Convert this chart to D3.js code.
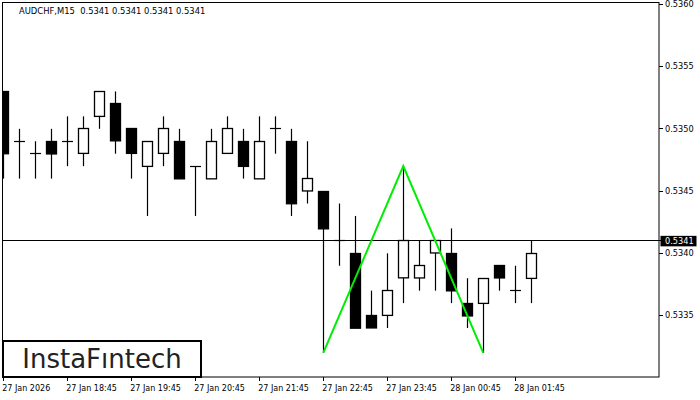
<!DOCTYPE html>
<html><head><meta charset="utf-8">
<script src="https://cdn.jsdelivr.net/npm/d3@7"></script>
<style>
html,body{margin:0;padding:0;background:#fff;}
svg{display:block;}
text{font-family:"DejaVu Sans",Verdana,sans-serif;}
</style></head>
<body>
<svg id="chart" width="700" height="400"></svg>
<script>
// ---- data ----
const symbolTitle = "AUDCHF,M15  0.5341 0.5341 0.5341 0.5341";
const opens  = [0.5353,0.5349,0.5348,0.5349,0.5349,0.5348,0.5351,0.5352,0.5350,0.5347,0.5348,0.5349,0.5347,0.5346,0.5348,0.5349,0.5346,0.5350,0.5349,0.5345,0.5345,0.5341,0.5340,0.5335,0.5335,0.5338,0.5338,0.5340,0.5340,0.5336,0.5336,0.5339,0.5337,0.5338];
const highs  = [0.5353,0.5350,0.5349,0.5350,0.5351,0.5351,0.5353,0.5353,0.5350,0.5349,0.5351,0.5350,0.5347,0.5350,0.5351,0.5350,0.5351,0.5351,0.5350,0.5349,0.5345,0.5344,0.5343,0.5337,0.5340,0.5347,0.5341,0.5341,0.5342,0.5338,0.5338,0.5339,0.5339,0.5341];
const lows   = [0.5346,0.5346,0.5346,0.5346,0.5347,0.5347,0.5350,0.5348,0.5346,0.5343,0.5347,0.5346,0.5343,0.5346,0.5348,0.5346,0.5346,0.5348,0.5343,0.5344,0.5332,0.5339,0.5334,0.5334,0.5334,0.5336,0.5337,0.5337,0.5336,0.5334,0.5332,0.5337,0.5336,0.5336];
const closes = [0.5348,0.5349,0.5348,0.5348,0.5349,0.5350,0.5353,0.5349,0.5348,0.5349,0.5350,0.5346,0.5347,0.5349,0.5350,0.5347,0.5349,0.5350,0.5344,0.5346,0.5342,0.5341,0.5334,0.5334,0.5337,0.5341,0.5339,0.5341,0.5337,0.5335,0.5338,0.5338,0.5337,0.5340];
const patternIdx = [20, 25, 30];
const patternPrice = [0.5332, 0.5347, 0.5332];
const currentPrice = 0.5341;
const priceTicks = [0.5335,0.5340,0.5345,0.5350,0.5355,0.5360];
const timeLabels = ["27 Jan 2026","27 Jan 18:45","27 Jan 19:45","27 Jan 20:45","27 Jan 21:45","27 Jan 22:45","27 Jan 23:45","28 Jan 00:45","28 Jan 01:45"];
const logoText = "InstaF\u0131ntech";

// ---- layout ----
const L = 2, R = 659, T = 3, B = 377;
const barSpacing = 16, firstBar = -0.08;
const labelStep = 4;
const svg = d3.select("#chart");

const x = d3.scaleLinear().domain([firstBar, firstBar + (R - L) / barSpacing]).range([L, R]);
const y = d3.scaleLinear().domain([0.5330, 0.5360]).range([377.8, 4.3]);
const px = v => Math.floor(v) + 0.5;

const bars = opens.map((o, i) => ({i, o, h: highs[i], l: lows[i], c: closes[i]}));

const plot = svg.append("g");
svg.append("clipPath").attr("id","clipP").append("rect")
  .attr("x", L).attr("y", T).attr("width", R - L).attr("height", B - T);
plot.attr("clip-path","url(#clipP)");

// current price line
plot.append("line")
  .attr("x1", L).attr("x2", R)
  .attr("y1", px(y(currentPrice))).attr("y2", px(y(currentPrice)))
  .attr("stroke", "#000").attr("stroke-width", 1);

// candles
const cg = plot.selectAll("g.c").data(bars).join("g").attr("class","c");
cg.append("line")
  .attr("x1", d => px(x(d.i))).attr("x2", d => px(x(d.i)))
  .attr("y1", d => y(d.h)).attr("y2", d => y(d.l))
  .attr("stroke", "#000").attr("stroke-width", 1.2);
cg.filter(d => d.o !== d.c).append("rect")
  .attr("x", d => px(x(d.i)) - 5)
  .attr("width", 10)
  .attr("y", d => px(y(Math.max(d.o, d.c))))
  .attr("height", d => Math.abs(y(d.o) - y(d.c)))
  .attr("fill", d => d.c > d.o ? "#fff" : "#000")
  .attr("stroke", "#000").attr("stroke-width", 1.3);
cg.filter(d => d.o === d.c).append("line")
  .attr("x1", d => px(x(d.i)) - 5.5).attr("x2", d => px(x(d.i)) + 5.5)
  .attr("y1", d => px(y(d.o))).attr("y2", d => px(y(d.o)))
  .attr("stroke", "#000").attr("stroke-width", 1.2);

// pattern lines
const pat = patternIdx.map((v, k) => [x(v), y(patternPrice[k])]);
plot.append("path")
  .attr("d", d3.line()(pat))
  .attr("fill", "none").attr("stroke", "#00ee00").attr("stroke-width", 2);

// frame
svg.append("rect").attr("x", L + 0.5).attr("y", T - 0.5)
  .attr("width", R - L - 0.5).attr("height", B - T + 0.5)
  .attr("fill","none").attr("stroke","#000").attr("stroke-width",1);

// right axis
const ra = svg.append("g");
ra.selectAll("line").data(priceTicks).join("line")
  .attr("x1", R).attr("x2", R + 4)
  .attr("y1", d => px(y(d))).attr("y2", d => px(y(d)))
  .attr("stroke","#000");
ra.selectAll("text").data(priceTicks).join("text")
  .attr("x", R + 6).attr("y", d => y(d)).attr("dy", "0.35em")
  .attr("font-size", 8.2).attr("fill", "#000")
  .text(d => d.toFixed(4));
// current price label
svg.append("rect").attr("x", R + 1.5).attr("y", y(currentPrice) - 5)
  .attr("width", 36).attr("height", 10.5).attr("fill", "#000");
svg.append("line").attr("x1", R).attr("x2", R + 2)
  .attr("y1", px(y(currentPrice))).attr("y2", px(y(currentPrice))).attr("stroke","#000");
svg.append("text").attr("x", R + 6).attr("y", y(currentPrice)).attr("dy","0.35em")
  .attr("font-size", 8.2).attr("fill","#fff").text(currentPrice.toFixed(4));

// bottom axis
const ba = svg.append("g");
ba.selectAll("line").data(timeLabels).join("line")
  .attr("x1", (d, k) => px(x(k * labelStep))).attr("x2", (d, k) => px(x(k * labelStep)))
  .attr("y1", B).attr("y2", B + 4).attr("stroke","#000");
ba.selectAll("text").data(timeLabels).join("text")
  .attr("x", (d, k) => x(k * labelStep) - 1).attr("y", 388).attr("dy","0.35em")
  .attr("font-size", 8).attr("fill","#000")
  .text(d => d);

// title
svg.append("text").attr("x", 19).attr("y", 11).attr("dy","0.35em")
  .style("white-space","pre")
  .attr("font-size", 8.4).attr("fill","#000").text(symbolTitle);

// logo
svg.append("rect").attr("x", 3).attr("y", 341).attr("width", 198).attr("height", 36)
  .attr("fill","#fff").attr("stroke","#000").attr("stroke-width", 2);
svg.append("text").attr("x", 102).attr("y", 359).attr("dy","0.36em")
  .attr("text-anchor","middle").attr("font-size", 26).attr("font-weight", 500)
  .attr("font-family", "Inter, Lato, sans-serif").attr("fill","#222")
  .text(logoText);
</script>
</body></html>
